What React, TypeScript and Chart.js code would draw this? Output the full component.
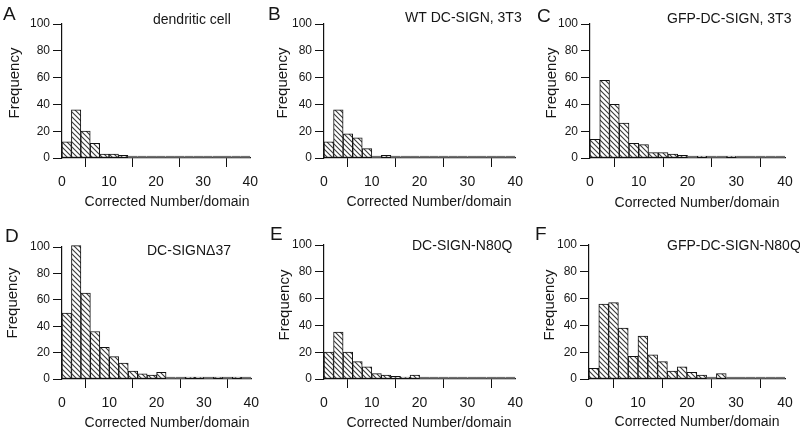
import React, { useEffect, useRef } from "react";
import { Chart, registerables } from "chart.js";

Chart.register(...registerables);

// ---------- data ----------
const binCenters = [1, 3, 5, 7, 9, 11, 13, 15, 17, 19, 21, 23, 25, 27, 29, 31, 33, 35, 37, 39];
const xTicks = [0, 10, 20, 30, 40];
const yTicks = [0, 20, 40, 60, 80, 100];

const panelLetters = ["A", "B", "C", "D", "E", "F"];
const panelTitles = [
  "dendritic cell",
  "WT DC-SIGN, 3T3",
  "GFP-DC-SIGN, 3T3",
  "DC-SIGN\u039437",
  "DC-SIGN-N80Q",
  "GFP-DC-SIGN-N80Q",
];
const xTitle = "Corrected Number/domain";
const yTitle = "Frequency";

const freqA = [12, 36, 20, 11, 3, 3, 2, 0, 0, 0, 0, 0, 0, 0, 0, 0, 0, 0, 0, 0];
const freqB = [12, 36, 18, 15, 7, 0, 2, 0, 0, 0, 0, 0, 0, 0, 0, 0, 0, 0, 0, 0];
const freqC = [14, 58, 40, 26, 11, 10, 4, 4, 3, 2, 0, 1, 0, 0, 1, 0, 0, 0, 0, 0];
const freqD = [50, 101, 65, 36, 24, 17, 12, 6, 4, 3, 5, 0, 0, 1, 1, 0, 1, 0, 1, 0];
const freqE = [20, 35, 20, 13, 9, 4, 3, 2, 1, 3, 0, 0, 0, 0, 0, 0, 0, 0, 0, 0];
const freqF = [8, 56, 57, 38, 17, 32, 18, 13, 6, 9, 5, 3, 0, 4, 0, 0, 0, 0, 0, 0];
const allFreqs = [freqA, freqB, freqC, freqD, freqE, freqF];

// ---------- layout ----------
type Layout = {
  left: number; top: number; w: number; h: number;
  L: number; R: number; T: number; B: number;
  letterX: number; letterY: number;
  titleX: number; titleY: number;
  xtX: number; xtY: number;
  ytX: number; ytY: number;
};

const layouts: Layout[] = [
  { left: 0, top: 0, w: 265, h: 217, L: 62, R: 257, T: 24, B: 158, letterX: 3, letterY: 20, titleX: 153, titleY: 24, xtX: 167, xtY: 202, ytX: 15, ytY: 83 },
  { left: 265, top: 0, w: 265, h: 217, L: 59, R: 254, T: 24, B: 158, letterX: 3, letterY: 20, titleX: 140, titleY: 22, xtX: 164, xtY: 202, ytX: 18, ytY: 83 },
  { left: 530, top: 0, w: 270, h: 217, L: 60, R: 255, T: 24, B: 158, letterX: 7, letterY: 22, titleX: 137, titleY: 23, xtX: 167, xtY: 203, ytX: 22, ytY: 83 },
  { left: 0, top: 217, w: 266, h: 217, L: 62, R: 258, T: 30, B: 162, letterX: 5, letterY: 25, titleX: 147, titleY: 38, xtX: 167, xtY: 206, ytX: 13, ytY: 86 },
  { left: 265, top: 217, w: 265, h: 217, L: 59, R: 254, T: 28, B: 162, letterX: 5, letterY: 23, titleX: 147, titleY: 33, xtX: 164, xtY: 206, ytX: 20, ytY: 88 },
  { left: 530, top: 217, w: 270, h: 217, L: 59, R: 255, T: 28, B: 162, letterX: 5, letterY: 23, titleX: 137, titleY: 33, xtX: 167, xtY: 205, ytX: 20, ytY: 88 },
];

const FONT = '"Liberation Sans", Arial, Helvetica, sans-serif';
const INK = "#161616";

function makeHatch(): CanvasPattern | string {
  const c = document.createElement("canvas");
  const s = 5;
  c.width = s;
  c.height = s;
  const g = c.getContext("2d");
  if (!g) return "#ccc";
  g.fillStyle = "#ffffff";
  g.fillRect(0, 0, s, s);
  g.strokeStyle = "#3a3a3a";
  g.lineWidth = 1.1;
  g.beginPath();
  g.moveTo(-1, -1);
  g.lineTo(s + 1, s + 1);
  g.moveTo(-1, s - 1);
  g.lineTo(1, s + 1);
  g.moveTo(s - 1, -1);
  g.lineTo(s + 1, 1);
  g.stroke();
  return g.createPattern(c, "repeat") || "#ccc";
}

const textPlugin = {
  id: "panelText",
  afterDraw(chart: any, _args: any, opts: any) {
    const ctx = chart.ctx as CanvasRenderingContext2D;
    ctx.save();
    ctx.fillStyle = INK;
    ctx.textAlign = "left";
    ctx.textBaseline = "alphabetic";
    ctx.font = `19px ${FONT}`;
    ctx.fillText(opts.letter, opts.letterX, opts.letterY);
    ctx.font = `14px ${FONT}`;
    ctx.fillText(opts.title, opts.titleX, opts.titleY);
    ctx.textAlign = "center";
    ctx.textBaseline = "middle";
    ctx.font = `14px ${FONT}`;
    ctx.fillText(opts.xTitle, opts.xtX, opts.xtY);
    ctx.translate(opts.ytX, opts.ytY);
    ctx.rotate(-Math.PI / 2);
    ctx.font = `15px ${FONT}`;
    ctx.fillText(opts.yTitle, 0, 0);
    ctx.restore();
  },
};

function Panel({ idx }: { idx: number }) {
  const ref = useRef<HTMLCanvasElement | null>(null);
  const lay = layouts[idx];
  useEffect(() => {
    if (!ref.current) return;
    const hatch = makeHatch();
    const freq = allFreqs[idx];
    const chart = new Chart(ref.current, {
      type: "bar",
      data: {
        datasets: [
          {
            data: binCenters.map((x, i) => ({ x, y: freq[i] })),
            backgroundColor: (c: any) => (c.raw && c.raw.y === 0 ? "#cfcfcf" : hatch),
            borderColor: "#111",
            borderWidth: (c: any) =>
              c.raw && c.raw.y === 0 ? { top: 1, left: 0, right: 0, bottom: 0 } : 1,
            borderSkipped: false,
            minBarLength: 2,
            categoryPercentage: 1,
            barPercentage: 1,
            clip: false,
          } as any,
        ],
      },
      plugins: [textPlugin as any],
      options: {
        responsive: false,
        animation: false,
        events: [],
        layout: { padding: { top: lay.T, right: lay.w - lay.R, left: 0, bottom: 0 } },
        plugins: {
          legend: { display: false },
          tooltip: { enabled: false },
          panelText: {
            letter: panelLetters[idx],
            title: panelTitles[idx],
            xTitle,
            yTitle,
            letterX: lay.letterX,
            letterY: lay.letterY,
            titleX: lay.titleX,
            titleY: lay.titleY,
            xtX: lay.xtX,
            xtY: lay.xtY,
            ytX: lay.ytX,
            ytY: lay.ytY,
          },
        } as any,
        scales: {
          x: {
            type: "linear",
            min: 0,
            max: 40,
            offset: false,
            afterFit: (s: any) => {
              s.height = lay.h - lay.B;
            },
            afterBuildTicks: (s: any) => {
              s.ticks = xTicks.map((v) => ({ value: v }));
            },
            ticks: {
              color: INK,
              font: { family: FONT, size: 14 },
              padding: 7,
              maxRotation: 0,
            },
            grid: {
              drawOnChartArea: false,
              drawTicks: true,
              tickLength: 9,
              color: "#111",
              lineWidth: 1,
            },
            border: { display: true, color: "#111", width: 1.2 },
          },
          y: {
            min: 0,
            max: 100,
            afterFit: (s: any) => {
              s.width = lay.L;
            },
            afterBuildTicks: (s: any) => {
              s.ticks = yTicks.map((v) => ({ value: v }));
            },
            ticks: {
              color: INK,
              font: { family: FONT, size: 12 },
              padding: 3,
            },
            grid: {
              drawOnChartArea: false,
              drawTicks: true,
              tickLength: 9,
              color: "#111",
              lineWidth: 1,
            },
            border: { display: true, color: "#111", width: 1.2 },
          },
        },
      } as any,
    });
    return () => chart.destroy();
  }, [idx]);
  return (
    <canvas
      ref={ref}
      width={lay.w}
      height={lay.h}
      style={{ position: "absolute", left: lay.left, top: lay.top, width: lay.w, height: lay.h }}
    />
  );
}

export default function App() {
  return (
    <div
      style={{
        position: "absolute",
        left: 0,
        top: 0,
        width: 800,
        height: 434,
        background: "#ffffff",
        overflow: "hidden",
      }}
    >
      {layouts.map((_, i) => (
        <Panel key={i} idx={i} />
      ))}
    </div>
  );
}
